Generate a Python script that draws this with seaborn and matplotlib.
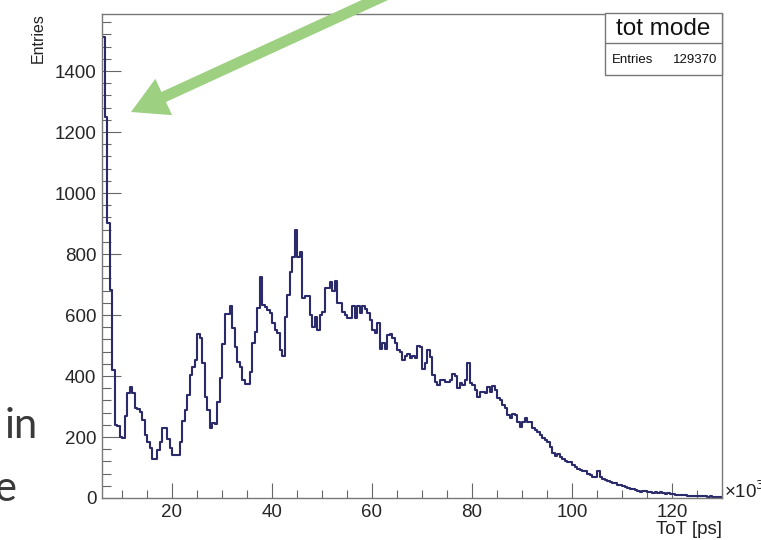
import numpy as np
import pandas as pd
import matplotlib
matplotlib.use("Agg")
import matplotlib.pyplot as plt
from matplotlib.ticker import MultipleLocator
from matplotlib.patches import Rectangle, FancyArrow
from matplotlib.lines import Line2D
import seaborn as sns

# ---------------- data ----------------
x_min, x_max, bin_width = 6.0, 130.0, 0.5

counts = [
    1510, 1250, 902, 682, 420, 240, 236, 200, 198, 268,          # 6.0 - 10.5
    343, 365, 343, 294, 292, 283, 256, 207, 185, 163,            # 11.0 - 15.5
    128, 128, 157, 185, 228, 228, 195, 163, 141, 141,            # 16.0 - 20.5
    141, 185, 251, 289, 338, 404, 431, 452, 538, 524,            # 21.0 - 25.5
    443, 331, 288, 230, 245, 243, 316, 393, 505, 603,            # 26.0 - 30.5
    603, 629, 557, 496, 447, 430, 387, 374, 374, 414,            # 31.0 - 35.5
    508, 545, 623, 726, 632, 625, 616, 608, 575, 551,            # 36.0 - 40.5
    540, 485, 466, 595, 666, 740, 790, 880, 790, 805,            # 41.0 - 45.5
    656, 662, 662, 600, 562, 595, 551, 600, 610, 689,            # 46.0 - 50.5
    689, 708, 680, 712, 640, 638, 611, 600, 589, 589,            # 51.0 - 55.5
    630, 589, 630, 606, 630, 619, 606, 584, 551, 540,            # 56.0 - 60.5
    573, 487, 507, 487, 534, 537, 523, 507, 486, 480,            # 61.0 - 65.5
    453, 466, 472, 458, 466, 458, 498, 495, 422, 442,            # 66.0 - 70.5
    486, 463, 402, 381, 370, 386, 386, 381, 381, 386,            # 71.0 - 75.5
    408, 400, 360, 376, 370, 387, 444, 376, 370, 354,            # 76.0 - 80.5
    332, 349, 349, 343, 365, 349, 367, 354, 327, 322,            # 81.0 - 85.5
    305, 294, 272, 261, 277, 272, 250, 234, 250, 261,            # 86.0 - 90.5
    250, 250, 228, 223, 215, 206, 196, 190, 185, 168,            # 91.0 - 95.5
    146, 138, 145, 135, 128, 122, 119, 117, 108, 102,            # 96.0 - 100.5
    96, 92, 87, 90, 80, 76, 70, 70, 90, 68,                      # 101.0 - 105.5
    62, 59, 55, 54, 50, 48, 43, 43, 40, 35,                      # 106.0 - 110.5
    33, 31, 28, 26, 23, 21, 22, 24, 20, 21,                      # 111.0 - 115.5
    18, 19, 17, 19, 15, 14, 15, 12, 12, 10,                      # 116.0 - 120.5
    11, 9, 9, 10, 8, 7, 8, 6, 7, 6,                              # 121.0 - 125.5
    5, 5, 4, 5, 3, 3, 3, 2,                                      # 126.0 - 129.5
]

x_major_ticks = [20, 40, 60, 80, 100, 120]
y_major_ticks = [0, 200, 400, 600, 800, 1000, 1200, 1400]
y_max = 1587

title_text = "tot mode"
entries_label = "Entries"
entries_value = "129370"
x_label = "ToT [ps]"
y_label = "Entries"
exponent_label = "×10$^{3}$"

# ---------------- figure ----------------
sns.set_style("white")
plt.rcParams["font.family"] = ["Liberation Sans", "DejaVu Sans"]

W, H = 761, 540
fig = plt.figure(figsize=(W / 100, H / 100), dpi=100)
fig.patch.set_facecolor("white")

ax_l, ax_r, ax_t, ax_b = 102, 722, 14, 498
ax = fig.add_axes([ax_l / W, 1 - ax_b / H, (ax_r - ax_l) / W, (ax_b - ax_t) / H])

n_bins = len(counts)
centers = x_min + bin_width * (np.arange(n_bins) + 0.5)
df = pd.DataFrame({"tot": centers, "n": np.asarray(counts, dtype=float)})

sns.histplot(data=df, x="tot", weights="n", binwidth=bin_width,
             binrange=(x_min, x_min + bin_width * n_bins), element="step",
             fill=False, color="#2b2b6c", linewidth=1.5, ax=ax)

ax.set_xlim(x_min, x_max)
ax.set_ylim(0, y_max)
ax.set_xlabel("")
ax.set_ylabel("")

ax.set_xticks(x_major_ticks)
ax.set_yticks(y_major_ticks)
ax.xaxis.set_minor_locator(MultipleLocator(5))
ax.yaxis.set_minor_locator(MultipleLocator(40))
ax.tick_params(axis="y", which="major", direction="in", length=13.5, width=0.8,
               color="#666666", labelsize=13.5, pad=4, left=True, right=False)
ax.tick_params(axis="y", which="minor", direction="in", length=6.5, width=0.8,
               color="#666666", left=True, right=False)
ax.tick_params(axis="x", which="major", direction="in", length=11, width=0.8,
               color="#666666", labelsize=13.5, pad=4, bottom=True, top=False)
ax.tick_params(axis="x", which="minor", direction="in", length=5.8, width=0.8,
               color="#666666", bottom=True, top=False)
for sp in ax.spines.values():
    sp.set_color("#777777")
    sp.set_linewidth(1.0)

# axis titles (ROOT style)
fig.text(38 / W, 1 - 13 / H, y_label, rotation=90, ha="center", va="top",
         fontsize=11.5, color="#222222")
fig.text(722 / W, 1 - 530 / H, x_label, ha="right", va="center",
         fontsize=13.5, color="#222222")
fig.text(724 / W, 1 - 491 / H, exponent_label, ha="left", va="center",
         fontsize=13.5, color="#222222")

# stats box
px = fig.dpi_scale_trans
bx0, bx1, by_top, by_sep, by_bot = 605, 722, 13, 43, 75
fig.add_artist(Rectangle((bx0 / 100, (H - by_bot) / 100), (bx1 - bx0) / 100,
                         (by_bot - by_top) / 100, transform=px,
                         facecolor="white", edgecolor="#777777", linewidth=1.0,
                         zorder=5))
fig.add_artist(Line2D([bx0 / 100, bx1 / 100], [(H - by_sep) / 100] * 2,
                      transform=px, color="#777777", linewidth=1.0, zorder=6))
fig.text((bx0 + bx1) / 2 / W, 1 - 29 / H, title_text, ha="center", va="center",
         fontsize=17.5, color="#111111", zorder=7)
fig.text(612 / W, 1 - 60 / H, entries_label, ha="left", va="center",
         fontsize=9.5, color="#111111", zorder=7)
fig.text(717 / W, 1 - 60 / H, entries_value, ha="right", va="center",
         fontsize=9.5, color="#111111", zorder=7)

# green annotation arrow (slide overlay)
sx, sy, ex, ey = 388, -6, 131, 112
fig.add_artist(FancyArrow(sx / 100, (H - sy) / 100, (ex - sx) / 100, -(ey - sy) / 100,
                          width=0.11, head_width=0.40, head_length=0.36,
                          length_includes_head=True, transform=px,
                          facecolor="#9dd081", edgecolor="none", zorder=10))

# clipped slide text on the left
fig.text(38 / W, 1 - 438 / H, "in", ha="right", va="baseline", fontsize=30,
         color="#3a3a3a", family=["Lato", "DejaVu Sans"])
fig.text(16 / W, 1 - 501 / H, "e", ha="right", va="baseline", fontsize=30,
         color="#3a3a3a", family=["Lato", "DejaVu Sans"])

fig.savefig("out.png", dpi=100)
